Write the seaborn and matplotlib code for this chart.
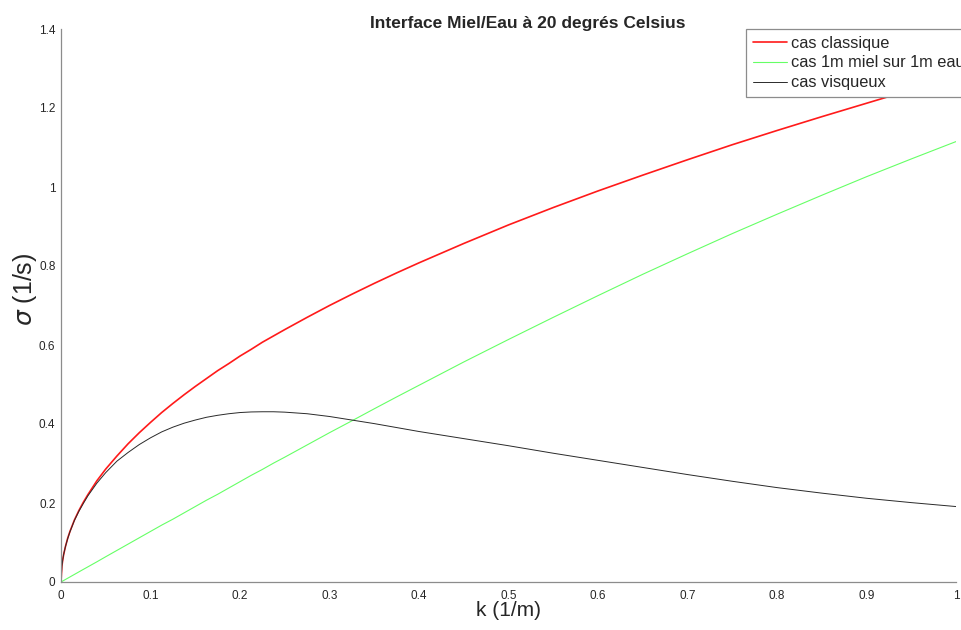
import numpy as np
import pandas as pd
import matplotlib
matplotlib.use("Agg")
import matplotlib.pyplot as plt
import seaborn as sns

sns.set_style("white")
plt.rcParams['font.family'] = ['Liberation Sans', 'DejaVu Sans']

# k (1/m) values
k = [0, 0.001, 0.002, 0.003, 0.005, 0.0075, 0.01, 0.015, 0.02, 0.025, 0.03, 0.04, 0.05,
     0.0625, 0.075, 0.0875, 0.1, 0.1125, 0.125, 0.1375, 0.15, 0.1625, 0.175, 0.1875,
     0.2, 0.2125, 0.225, 0.2375, 0.25, 0.275, 0.3, 0.325, 0.35, 0.375, 0.4, 0.45,
     0.5, 0.55, 0.6, 0.65, 0.7, 0.75, 0.8, 0.85, 0.9, 0.95, 1.0]

sigma_classique = [0, 0.040, 0.057, 0.070, 0.090, 0.111, 0.128, 0.157, 0.181, 0.202, 0.221, 0.256, 0.286,
                   0.319, 0.350, 0.378, 0.404, 0.429, 0.452, 0.474, 0.495, 0.515, 0.535, 0.553,
                   0.572, 0.589, 0.607, 0.623, 0.639, 0.670, 0.700, 0.7285, 0.756, 0.7825, 0.808, 0.857,
                   0.904, 0.948, 0.990, 1.030, 1.069, 1.107, 1.143, 1.178, 1.212, 1.246, 1.278]

sigma_1m = [0, 0.0013, 0.0026, 0.0038, 0.0064, 0.0096, 0.0128, 0.0192, 0.0256, 0.032, 0.0383, 0.051, 0.064,
            0.080, 0.096, 0.112, 0.128, 0.144, 0.159, 0.175, 0.191, 0.207, 0.222, 0.238,
            0.254, 0.270, 0.285, 0.301, 0.316, 0.347, 0.378, 0.408, 0.4385, 0.4685, 0.498, 0.557,
            0.614, 0.670, 0.725, 0.779, 0.831, 0.882, 0.931, 0.979, 1.026, 1.071, 1.115]

sigma_visqueux = [0, 0.040, 0.057, 0.070, 0.090, 0.110, 0.127, 0.156, 0.179, 0.199, 0.218, 0.250, 0.277,
                  0.306, 0.328, 0.348, 0.365, 0.380, 0.392, 0.402, 0.410, 0.417, 0.422, 0.426,
                  0.429, 0.4305, 0.431, 0.431, 0.430, 0.426, 0.419, 0.410, 0.401, 0.391, 0.381, 0.363,
                  0.345, 0.326, 0.308, 0.290, 0.272, 0.255, 0.239, 0.225, 0.212, 0.201, 0.191]

labels = ['cas classique', 'cas 1m miel sur 1m eau', 'cas visqueux']

df = pd.DataFrame({'k': k, labels[0]: sigma_classique, labels[1]: sigma_1m, labels[2]: sigma_visqueux})

fig = plt.figure(figsize=(9.61, 6.30), dpi=100)
ax = fig.add_axes([61/961, 48/630, 895/961, 553/630])

sns.lineplot(data=df, x='k', y=labels[0], color='#ff1a1a', lw=1.2, label=labels[0], ax=ax)
sns.lineplot(data=df, x='k', y=labels[1], color='#66ff66', lw=0.8, label=labels[1], ax=ax)
sns.lineplot(data=df, x='k', y=labels[2], color='#2a2a2a', lw=0.7, label=labels[2], ax=ax)

ax.set_xlim(0, 1)
ax.set_ylim(0, 1.4)
ax.set_xticks(np.arange(0, 1.01, 0.1))
ax.set_xticklabels(['0', '0.1', '0.2', '0.3', '0.4', '0.5', '0.6', '0.7', '0.8', '0.9', '1'])
ax.set_yticks(np.arange(0, 1.41, 0.2))
ax.set_yticklabels(['0', '0.2', '0.4', '0.6', '0.8', '1', '1.2', '1.4'])

for side in ['top', 'right']:
    ax.spines[side].set_visible(False)
for side in ['left', 'bottom']:
    ax.spines[side].set_color('#8c8c8c')
    ax.spines[side].set_linewidth(0.9)
ax.tick_params(direction='in', length=6.5, width=0.8, color='#8c8c8c',
               labelsize=8.5, labelcolor='#262626')
ax.tick_params(axis='x', pad=6)
ax.tick_params(axis='y', pad=4)

ax.set_xlabel('k (1/m)', fontsize=15, color='#262626', labelpad=-1)
ax.set_ylabel(r'$\sigma$ (1/s)', fontsize=18, color='#262626')
ax.yaxis.set_label_coords(-0.025, 0.53)
ax.set_title('Interface Miel/Eau à 20 degrés Celsius', fontsize=12.5, fontweight='bold',
             x=0.521, pad=1)

leg = ax.legend(loc='upper left', bbox_to_anchor=(746/961, 601/630), bbox_transform=fig.transFigure,
                fontsize=11.8, frameon=True, fancybox=False, framealpha=1, borderaxespad=0,
                handlelength=2.1, handletextpad=0.25, labelspacing=0.3, borderpad=0.4)
leg.get_frame().set_edgecolor('#8c8c8c')
leg.get_frame().set_linewidth(0.9)
for t in leg.get_texts():
    t.set_color('#262626')

fig.savefig('out.png', dpi=100)
